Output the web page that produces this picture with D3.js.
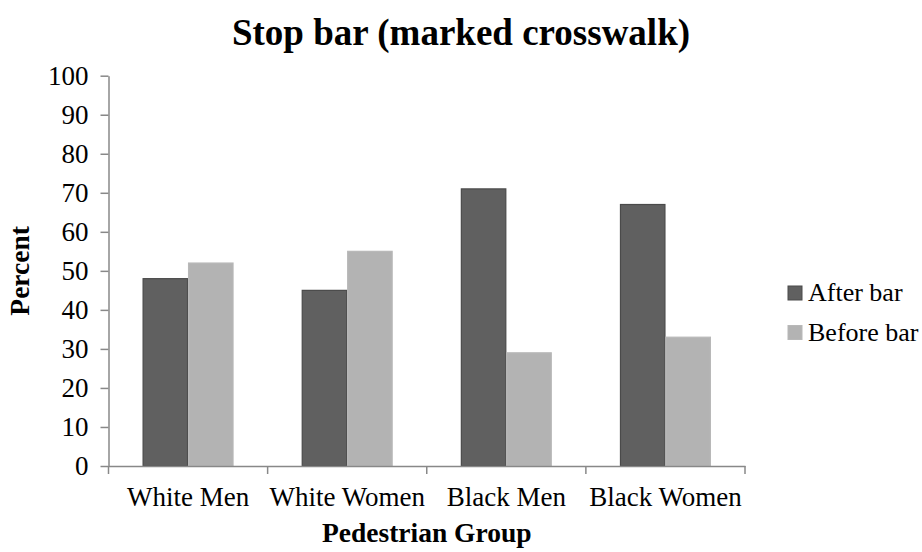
<!DOCTYPE html>
<html>
<head>
<meta charset="utf-8">
<script src="https://cdn.jsdelivr.net/npm/d3@7"></script>
<style>
  html, body { margin: 0; padding: 0; background: #fff; }
  text { font-family: "Liberation Serif", "Times New Roman", serif; fill: #000; }
</style>
</head>
<body>
<svg id="chart" width="922" height="552"></svg>
<script>
// Pedestrian groups and the share of stops relative to the stop bar
const categories = ["White Men", "White Women", "Black Men", "Black Women"];
const seriesNames = ["After bar", "Before bar"];
const afterBar = [48, 45, 71, 67];
const beforeBar = [52, 55, 29, 33];
const yTicks = [0, 10, 20, 30, 40, 50, 60, 70, 80, 90, 100];
const colors = ["#606060", "#b3b3b3"];
const strokes = ["#4a4a4a", "#b8b8b8"];

const svg = d3.select("#chart");
const plotLeft = 108.5, plotRight = 745, plotTop = 75.7, plotBottom = 466;
const axisColor = "#888888";
const serif = '"Liberation Serif", "Times New Roman", serif';

const x0 = d3.scaleBand().domain(categories).range([plotLeft, plotRight]).padding(0);
const x1 = d3.scaleBand().domain(seriesNames).range([0, x0.bandwidth()])
  .paddingInner(0).paddingOuter(0.75);
const y = d3.scaleLinear().domain([0, 100]).range([plotBottom, plotTop]);

const rows = categories.map((c, i) => ({ cat: c, vals: [afterBar[i], beforeBar[i]] }));

// Bars
const groups = svg.append("g").selectAll("g").data(rows).join("g")
  .attr("transform", d => `translate(${x0(d.cat)},0)`);
groups.selectAll("rect")
  .data(d => d.vals.map((v, k) => ({ s: seriesNames[k], v, k })))
  .join("rect")
  .attr("x", d => x1(d.s) + 0.5)
  .attr("width", x1.bandwidth() - 1)
  .attr("y", d => y(d.v))
  .attr("height", d => plotBottom - y(d.v))
  .attr("fill", d => colors[d.k])
  .attr("stroke", d => strokes[d.k])
  .attr("stroke-width", 1.2);

// Y axis
const yAxis = svg.append("g").attr("transform", `translate(${plotLeft},0)`)
  .call(d3.axisLeft(y).tickValues(yTicks).tickSize(8).tickPadding(12).tickSizeOuter(0))
  .attr("font-family", serif).attr("font-size", 27);
yAxis.select(".domain").attr("stroke", axisColor).attr("stroke-width", 1.5);
yAxis.selectAll(".tick line").attr("stroke", axisColor).attr("stroke-width", 1.5);
yAxis.selectAll(".tick text").attr("fill", "#000");

// X axis with ticks at category boundaries
const xAxis = svg.append("g").attr("transform", `translate(0,${plotBottom})`)
  .call(d3.axisBottom(x0).tickSize(0).tickPadding(21).tickSizeOuter(0))
  .attr("font-family", serif).attr("font-size", 27);
xAxis.select(".domain").attr("stroke", axisColor).attr("stroke-width", 1.5);
xAxis.selectAll(".tick text").attr("fill", "#000");
const bounds = categories.map(c => x0(c)).concat([x0(categories[categories.length - 1]) + x0.bandwidth()]);
svg.append("g").selectAll("line").data(bounds).join("line")
  .attr("x1", d => d).attr("x2", d => d)
  .attr("y1", plotBottom).attr("y2", plotBottom + 8)
  .attr("stroke", axisColor).attr("stroke-width", 1.5);

// Titles
svg.append("text").attr("x", 461).attr("y", 45).attr("text-anchor", "middle")
  .attr("font-size", 37).attr("font-weight", "bold").text("Stop bar (marked crosswalk)");
svg.append("text").attr("x", (plotLeft + plotRight) / 2).attr("y", 542).attr("text-anchor", "middle")
  .attr("font-size", 27.5).attr("font-weight", "bold").text("Pedestrian Group");
svg.append("text").attr("transform", `translate(29,${(plotTop + plotBottom) / 2}) rotate(-90)`)
  .attr("text-anchor", "middle").attr("font-size", 27.5).attr("font-weight", "bold").text("Percent");

// Legend
const legend = svg.append("g").selectAll("g").data(seriesNames).join("g")
  .attr("transform", (d, i) => `translate(788,${286 + i * 39.5})`);
legend.append("rect").attr("width", 14).attr("height", 14)
  .attr("fill", (d, i) => colors[i]).attr("stroke", (d, i) => strokes[i]).attr("stroke-width", 1);
legend.append("text").attr("x", 20).attr("y", 15).attr("font-size", 26).text(d => d);
</script>
</body>
</html>
